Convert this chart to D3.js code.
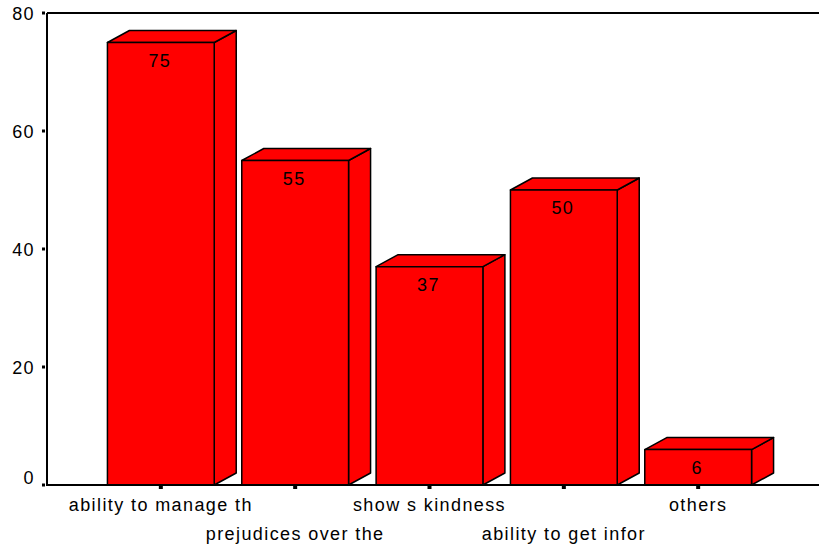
<!DOCTYPE html>
<html>
<head>
<meta charset="utf-8">
<script src="https://cdn.jsdelivr.net/npm/d3@7"></script>
<style>
  html, body { margin: 0; padding: 0; background: #fff; }
  svg { display: block; font-family: "Liberation Sans", Arial, sans-serif; }
</style>
</head>
<body>
<svg id="chart" width="819" height="547"></svg>
<script>
// Response categories and their counts
const categories = [
  "ability to manage th",
  "prejudices over the",
  "show s kindness",
  "ability to get infor",
  "others"
];
const counts = [75, 55, 37, 50, 6];
const yTicks = [0, 20, 40, 60, 80];

(function () {
  const svg = d3.select("#chart");
  const W = 819;
  const plotLeft = 47, plotTop = 13, plotBottom = 485;
  const depthX = 22, depthY = 12;   // 3D extrusion offset
  const fontSize = 18, spacing = 1.4;

  const y = d3.scaleLinear().domain([0, 80]).range([plotBottom, plotTop]);
  const x = d3.scaleBand()
    .domain(categories)
    .range([94, 765])
    .paddingInner(0.205)
    .paddingOuter(0.1);

  const data = categories.map((c, i) => ({ cat: c, value: counts[i] }));

  // Bars drawn as 3D boxes: side, top and front faces
  const bars = svg.append("g").selectAll("g.bar").data(data).join("g").attr("class", "bar");

  bars.each(function (d) {
    const x0 = x(d.cat), x1 = x0 + x.bandwidth();
    const yt = y(d.value), yb = y(0);
    const sel = d3.select(this);
    const style = s => s.attr("fill", "#ff0000").attr("stroke", "#000")
      .attr("stroke-width", 1.5).attr("stroke-linejoin", "round");
    style(sel.append("path").attr("d",
      `M${x1},${yb} L${x1 + depthX},${yb - depthY} L${x1 + depthX},${yt - depthY} L${x1},${yt} Z`));
    style(sel.append("path").attr("d",
      `M${x0},${yt} L${x0 + depthX},${yt - depthY} L${x1 + depthX},${yt - depthY} L${x1},${yt} Z`));
    style(sel.append("rect").attr("x", x0).attr("y", yt)
      .attr("width", x1 - x0).attr("height", yb - yt));
    sel.append("text")
      .attr("x", x0 + x.bandwidth() / 2 - 1)
      .attr("y", yt + 18)
      .attr("dy", "0.35em")
      .attr("text-anchor", "middle")
      .attr("font-size", fontSize)
      .attr("letter-spacing", spacing)
      .attr("fill", "#000")
      .text(d.value);
  });

  // Frame lines: left axis, top, bottom
  const frame = (x1, x2, y1, y2) => svg.append("line")
    .attr("x1", x1).attr("x2", x2).attr("y1", y1).attr("y2", y2)
    .attr("stroke", "#000").attr("stroke-width", 2);
  frame(plotLeft, plotLeft, plotTop, plotBottom);
  frame(plotLeft, W, plotTop, plotTop);
  frame(plotLeft - 1, W, plotBottom, plotBottom);

  // Y ticks (small squares) and labels
  const yAxis = svg.append("g");
  yAxis.selectAll("rect").data(yTicks).join("rect")
    .attr("x", 42).attr("y", d => y(d) - 1.5).attr("width", 3).attr("height", 3)
    .attr("fill", "#000");
  yAxis.selectAll("text").data(yTicks).join("text")
    .attr("x", 35)
    .attr("y", d => d === 0 ? y(d) - 7 : y(d) + 1)
    .attr("dy", "0.35em")
    .attr("text-anchor", "end")
    .attr("font-size", fontSize)
    .attr("letter-spacing", spacing)
    .attr("fill", "#000")
    .text(d => d);

  // X ticks (small squares under the axis) and staggered labels
  const xAxis = svg.append("g");
  xAxis.selectAll("rect").data(categories).join("rect")
    .attr("x", d => x(d) + x.bandwidth() / 2 - 2).attr("y", plotBottom)
    .attr("width", 4).attr("height", 4)
    .attr("fill", "#000");
  xAxis.selectAll("text").data(categories).join("text")
    .attr("x", d => x(d) + x.bandwidth() / 2)
    .attr("y", (d, i) => i % 2 === 0 ? 505 : 534)
    .attr("dy", "0.35em")
    .attr("text-anchor", "middle")
    .attr("font-size", fontSize)
    .attr("letter-spacing", spacing)
    .attr("fill", "#000")
    .text(d => d);
})();
</script>
</body>
</html>
